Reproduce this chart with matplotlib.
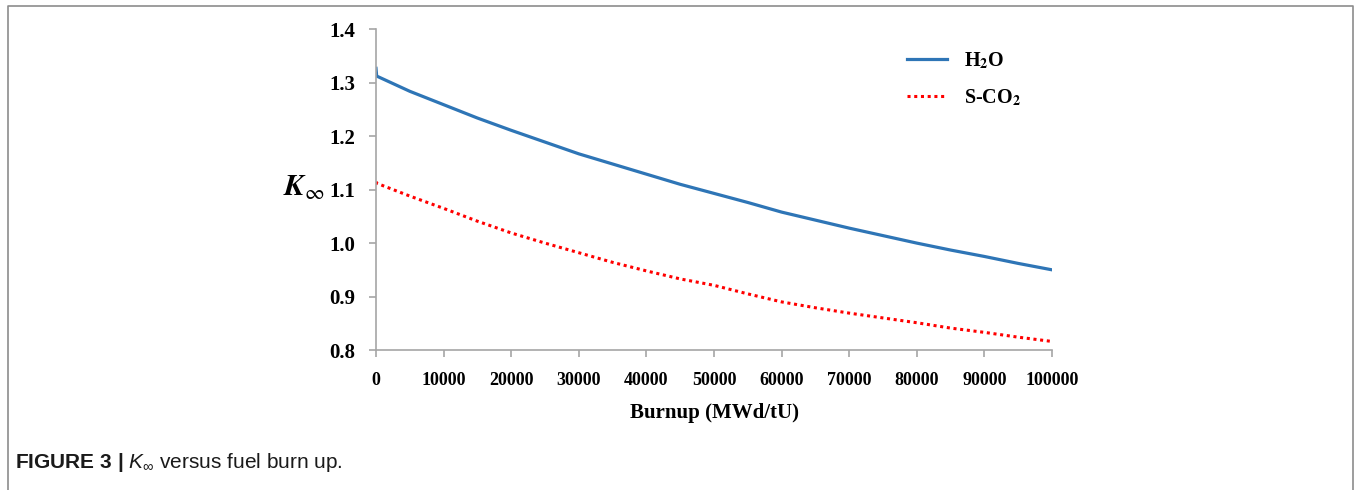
import matplotlib
matplotlib.use("Agg")
import matplotlib.pyplot as plt
from matplotlib.lines import Line2D

# burnup (MWd/tU) and K_inf
burnup = [0, 100, 5000, 10000, 15000, 20000, 25000, 30000, 35000, 40000,
          45000, 50000, 55000, 60000, 65000, 70000, 75000, 80000, 85000,
          90000, 95000, 100000]
k_h2o = [1.327, 1.3125, 1.284, 1.259, 1.234, 1.211, 1.189, 1.167, 1.148, 1.129,
         1.110, 1.093, 1.076, 1.058, 1.043, 1.028, 1.014, 1.000, 0.987,
         0.975, 0.962, 0.950]
k_sco2 = [1.115, 1.112, 1.088, 1.065, 1.041, 1.019, 1.000, 0.982, 0.964, 0.948,
          0.933, 0.921, 0.905, 0.890, 0.879, 0.869, 0.860, 0.851, 0.841,
          0.833, 0.824, 0.816]

x_ticks = list(range(0, 100001, 10000))
y_ticks = [0.8, 0.9, 1.0, 1.1, 1.2, 1.3, 1.4]

SERIF = "Liberation Serif"
AXIS_GREY = "#a6a6a6"
BLUE = "#2e75b6"
RED = "#ff0000"
DOTS = (0, (1, 1.2))

plt.rcParams["mathtext.fontset"] = "custom"
plt.rcParams["mathtext.rm"] = "Liberation Sans"
plt.rcParams["mathtext.it"] = "Liberation Sans:italic"
plt.rcParams["mathtext.bf"] = "Liberation Sans:bold"

fig = plt.figure(figsize=(13.56, 4.90), dpi=100)
ax = fig.add_axes([376 / 1356, 1 - 350 / 490, 676 / 1356, (350 - 29.3) / 490])

ax.plot(burnup, k_h2o, color=BLUE, lw=2.3)
ax.plot(burnup, k_sco2, color=RED, lw=2.2, ls=DOTS)

ax.set_xlim(0, 100000)
ax.set_ylim(0.8, 1.4)
ax.set_xticks(x_ticks)
ax.set_yticks(y_ticks)
ax.set_xticklabels([str(t) for t in x_ticks])
ax.set_yticklabels([f"{t:.1f}" for t in y_ticks])
for lab in ax.get_xticklabels():
    lab.set_fontfamily(SERIF)
    lab.set_fontweight("bold")
    lab.set_fontsize(13)
for lab in ax.get_yticklabels():
    lab.set_fontfamily(SERIF)
    lab.set_fontweight("bold")
    lab.set_fontsize(15)

for side in ("top", "right"):
    ax.spines[side].set_visible(False)
for side in ("left", "bottom"):
    ax.spines[side].set_color(AXIS_GREY)
    ax.spines[side].set_linewidth(1.2)
ax.tick_params(axis="both", direction="out", length=5, width=1.2, color=AXIS_GREY)
ax.tick_params(axis="x", pad=11)
ax.tick_params(axis="y", pad=10)

ax.set_xlabel("Burnup (MWd/tU)", fontfamily=SERIF, fontweight="bold", fontsize=15, labelpad=10)
fig.text(283 / 1356, 1 - 188 / 490, r"$\mathbfit{K}_{\infty}$", fontsize=22,
         math_fontfamily="stix", ha="left", va="center")

# legend drawn by hand, matching the Excel-style layout
handles = [Line2D([], [], color=BLUE, lw=2.3),
           Line2D([], [], color=RED, lw=2.2, ls=DOTS)]
labels = [r"H$_\mathbf{2}$O", r"S-CO$_\mathbf{2}$"]
leg = ax.legend(handles, labels, loc="upper left", bbox_to_anchor=(0.759, 0.99),
                frameon=False, handlelength=2.0, handletextpad=0.8, labelspacing=0.8,
                prop={"family": SERIF, "weight": "bold", "size": 14.5})
for t in leg.get_texts():
    t.set_math_fontfamily("stix")

# outer frame of the figure panel
fx0, fx1, fy1 = 8 / 1356, 1353 / 1356, 1 - 6 / 490
fig.add_artist(Line2D([fx0, fx0, fx1, fx1], [0, fy1, fy1, 0], color="#8c8c8c", lw=1.2,
                      transform=fig.transFigure))

fig.text(15 / 1356, 1 - 462 / 490,
         r"$\mathbf{FIGURE\ 3\ |}$ $K_{\infty}$ versus fuel burn up.",
         fontfamily="Liberation Sans", fontsize=15, color="#1a1a1a", va="center")

fig.savefig("out.png", dpi=100)
